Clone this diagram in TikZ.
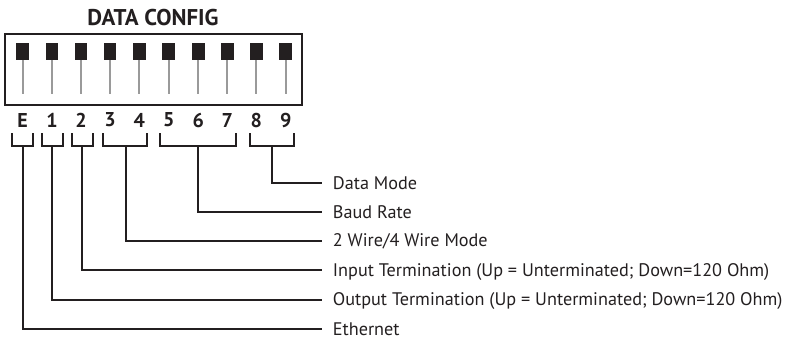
\documentclass[tikz,border=0pt]{standalone}
\usepackage{fontspec}
\setmainfont{PT Sans}
\definecolor{ink}{HTML}{231F20}
\definecolor{stemgray}{HTML}{9A9A9A}
\begin{document}
\begin{tikzpicture}[x=1pt,y=-1pt,
  ln/.style={draw=ink, line width=2pt},
  lbl/.style={anchor=west, font=\fontsize{18.2}{20}\selectfont, text=ink, inner xsep=11pt, inner ysep=0pt, text height=12.5pt, text depth=0pt},
  dig/.style={font=\bfseries\fontsize{20}{22}\selectfont, text=ink, inner sep=0pt},
  knob/.style={fill=ink, minimum width=12.7pt, minimum height=16.7pt, inner sep=0pt},
  stem/.style={draw=stemgray, line width=2.2pt}]
\useasboundingbox (0,0) rectangle (787,338);
\node[font=\bfseries\fontsize{22.8}{24}\selectfont, text=ink, inner sep=0pt] (title) at (153,17.5) {DATA CONFIG};
\node[draw=ink, line width=2pt, minimum width=297pt, minimum height=71pt, inner sep=0pt] (box) at (153.5,69.5) {};
\foreach \x/\t [count=\i] in {22.7/E,52/1,81/2,110/3,139.3/4,168.7/5,198.3/6,227.3/7,256.3/8,285.7/9} {
  \node[knob] (k\i) at (\x,51.5) {};
  \coordinate (s\i) at (\x,94);
  \draw[stem] (k\i.south) -- (s\i);
  \node[dig] (d\i) at (\x,120) {\t};
}
% brackets: left, right, stem x, line y, label
\foreach \l/\r/\m/\y/\t [count=\i] in {
  250/294/272.3/183.3/{Data Mode},
  160/235.7/197.7/212/{Baud Rate},
  102.7/146.7/125.7/240.5/{2 Wire/4 Wire Mode},
  71.7/92.7/81.7/270/{Input Termination (Up = Unterminated; Down=120 Ohm)},
  41.7/63.3/51.7/299.5/{Output Termination (Up = Unterminated; Down=120 Ohm)},
  12.3/33.3/22.7/329.3/{Ethernet}} {
  \coordinate (bl\i) at (\l,133);
  \coordinate (br\i) at (\r,133);
  \coordinate (bm\i) at (\m,145.7);
  \node[lbl] (t\i) at (321.7,\y) {\t};
  \draw[ln] (bl\i) |- (bm\i) -| (br\i);
  \draw[ln] (bm\i) |- (t\i.west);
}
\end{tikzpicture}
\end{document}
